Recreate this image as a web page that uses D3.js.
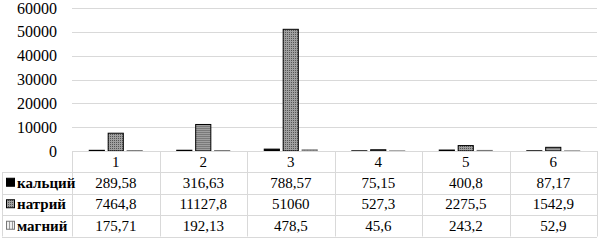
<!DOCTYPE html>
<html>
<head>
<meta charset="utf-8">
<script src="https://cdn.jsdelivr.net/npm/d3@7"></script>
<style>
body { margin: 0; background: #fff; }
</style>
</head>
<body>
<script>
let categories = ['1', '2', '3', '4', '5', '6']
let seriesNames = ['кальций', 'натрий', 'магний']
let calcium = [289.58, 316.63, 788.57, 75.15, 400.8, 87.17]
let sodium = [7464.8, 11127.8, 51060, 527.3, 2275.5, 1542.9]
let magnesium = [175.71, 192.13, 478.5, 45.6, 243.2, 52.9]
let calciumLabels = ['289,58', '316,63', '788,57', '75,15', '400,8', '87,17']
let sodiumLabels = ['7464,8', '11127,8', '51060', '527,3', '2275,5', '1542,9']
let magnesiumLabels = ['175,71', '192,13', '478,5', '45,6', '243,2', '52,9']
let yTicks = [0, 10000, 20000, 30000, 40000, 50000, 60000]

let series = [
    {name: seriesNames[0], values: calcium, labels: calciumLabels, fill: '#000', stroke: '#000'},
    {name: seriesNames[1], values: sodium, labels: sodiumLabels, fill: 'url(#dots)', stroke: '#000'},
    {name: seriesNames[2], values: magnesium, labels: magnesiumLabels, fill: 'url(#stripes)', stroke: '#777'},
]

let svgWidth = 600, svgHeight = 242
let plotLeft = 72, plotRight = 597, plotTop = 8, plotBottom = 151
let headerH = 21, rowH = 21.5
let serif = "'Times New Roman'"

let svg = d3.select('body').append('svg')
    .attr('width', svgWidth)
    .attr('height', svgHeight)
    .style('display', 'block')

let defs = svg.append('defs')
let dots = defs.append('pattern')
    .attr('id', 'dots').attr('patternUnits', 'userSpaceOnUse')
    .attr('width', 2).attr('height', 2)
dots.append('rect').attr('width', 2).attr('height', 2).attr('fill', '#a0a0a0')
dots.append('rect').attr('width', 1).attr('height', 1).attr('fill', '#555')
let stripes = defs.append('pattern')
    .attr('id', 'stripes').attr('patternUnits', 'userSpaceOnUse')
    .attr('width', 3).attr('height', 3)
stripes.append('rect').attr('width', 3).attr('height', 3).attr('fill', '#f0f0f0')
stripes.append('rect').attr('width', 1).attr('height', 3).attr('fill', '#999')

let x = d3.scaleBand().domain(categories).range([plotLeft, plotRight])
let groupW = 53
let x1 = d3.scaleBand().domain(seriesNames)
    .range([(x.bandwidth() - groupW) / 2, (x.bandwidth() + groupW) / 2])
    .paddingInner(0.2)
let y = d3.scaleLinear().domain([0, 60000]).range([plotBottom, plotTop])

// gridlines
svg.append('g')
    .selectAll('line')
    .data(yTicks)
    .enter()
    .append('line')
    .attr('x1', plotLeft).attr('x2', plotRight)
    .attr('y1', d => Math.round(y(d)) + 0.5)
    .attr('y2', d => Math.round(y(d)) + 0.5)
    .attr('stroke', '#d9d9d9')
    .attr('stroke-width', 1)

// y labels
svg.append('g')
    .selectAll('text')
    .data(yTicks)
    .enter()
    .append('text')
    .attr('x', 57)
    .attr('y', d => y(d) + 5.5)
    .attr('text-anchor', 'end')
    .style('font-family', serif)
    .style('font-size', '16px')
    .text(d => d)

// bars
let groups = svg.append('g')
    .selectAll('g')
    .data(categories)
    .enter()
    .append('g')
    .attr('transform', d => `translate(${x(d)},0)`)

groups.selectAll('rect')
    .data((c, i) => series.map(s => ({s: s, v: s.values[i]})))
    .enter()
    .append('rect')
    .attr('x', d => x1(d.s.name))
    .attr('width', x1.bandwidth())
    .attr('y', d => y(d.v))
    .attr('height', d => Math.max(0.5, y(0) - y(d.v)))
    .attr('fill', d => d.s.fill)
    .attr('stroke', d => d.s.stroke)
    .attr('stroke-width', 1)

// table
let table = svg.append('g')
let tableLeft = 2
let rowsY = [plotBottom].concat(d3.range(4).map(i => plotBottom + headerH + i * rowH))

// horizontal lines
table.selectAll('line.h')
    .data(rowsY)
    .enter()
    .append('line')
    .attr('class', 'h')
    .attr('x1', (d, i) => i === 0 ? plotLeft : tableLeft)
    .attr('x2', plotRight)
    .attr('y1', d => Math.round(d) + 0.5)
    .attr('y2', d => Math.round(d) + 0.5)
    .attr('stroke', '#d9d9d9')

// vertical lines
let vx = [plotLeft].concat(categories.map(c => x(c) + x.bandwidth()))
table.selectAll('line.v')
    .data(vx)
    .enter()
    .append('line')
    .attr('class', 'v')
    .attr('x1', d => Math.round(d) + 0.5)
    .attr('x2', d => Math.round(d) + 0.5)
    .attr('y1', plotBottom)
    .attr('y2', rowsY[4])
    .attr('stroke', '#d9d9d9')
table.append('line')
    .attr('x1', tableLeft + 0.5).attr('x2', tableLeft + 0.5)
    .attr('y1', rowsY[1]).attr('y2', rowsY[4])
    .attr('stroke', '#d9d9d9')

// category labels
table.selectAll('text.cat')
    .data(categories)
    .enter()
    .append('text')
    .attr('class', 'cat')
    .attr('x', d => x(d) + x.bandwidth() / 2)
    .attr('y', plotBottom + headerH / 2 + 5)
    .attr('text-anchor', 'middle')
    .style('font-family', serif)
    .style('font-size', '15px')
    .text(d => d)

// data rows
series.forEach((s, r) => {
    let cy = rowsY[r + 1] + rowH / 2
    table.append('rect')
        .attr('x', 6.5).attr('y', cy - 4.5)
        .attr('width', 8).attr('height', 8)
        .attr('fill', s.fill)
        .attr('stroke', s.stroke)
    table.append('text')
        .attr('x', 17)
        .attr('y', cy + 5)
        .style('font-family', serif)
        .style('font-size', '15px')
        .style('font-weight', 'bold')
        .text(s.name)
    table.selectAll(null)
        .data(s.labels)
        .enter()
        .append('text')
        .attr('x', (d, i) => x(categories[i]) + x.bandwidth() / 2)
        .attr('y', cy + 5)
        .attr('text-anchor', 'middle')
        .style('font-family', serif)
        .style('font-size', '15px')
        .text(d => d)
})
</script>
</body>
</html>
